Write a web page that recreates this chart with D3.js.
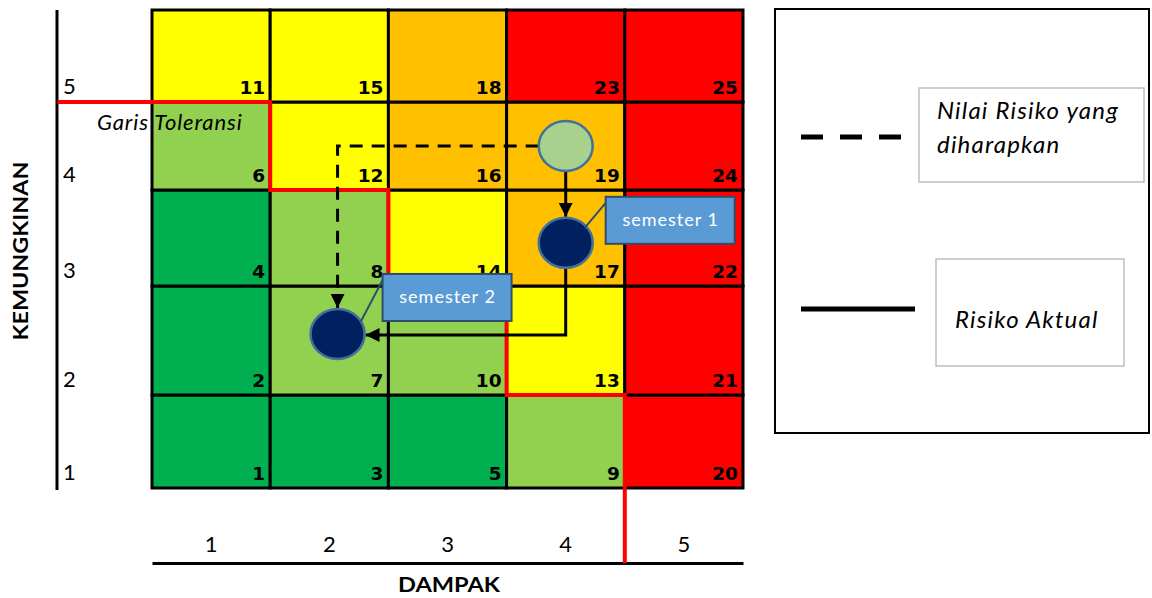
<!DOCTYPE html>
<html>
<head>
<meta charset="utf-8">
<script src="https://cdn.jsdelivr.net/npm/d3@7"></script>
<style>
  html, body { margin: 0; padding: 0; background: #fff; }
  svg { display: block; }
</style>
</head>
<body>
<svg id="chart" width="1152" height="598"></svg>
<script>
// ---------- data ----------
const impactLevels = [1, 2, 3, 4, 5];          // DAMPAK (x)
const likelihoodLevels = [1, 2, 3, 4, 5];      // KEMUNGKINAN (y)
// risk score per cell, row index = likelihood-1, column index = impact-1
const scoreRows = [
  [1, 3, 5, 9, 20],
  [2, 7, 10, 13, 21],
  [4, 8, 14, 17, 22],
  [6, 12, 16, 19, 24],
  [11, 15, 18, 23, 25]
];
// risk level per cell: G = low, LG = low-moderate, Y = moderate, O = moderate-high, R = high
const levelRows = [
  ["G", "G", "G", "LG", "R"],
  ["G", "LG", "LG", "Y", "R"],
  ["G", "LG", "Y", "O", "R"],
  ["LG", "Y", "O", "O", "R"],
  ["Y", "Y", "O", "R", "R"]
];
const levelNames = ["G", "LG", "Y", "O", "R"];
const levelColors = ["#00B050", "#92D050", "#FFFF00", "#FFC000", "#FF0000"];
// tolerance line ("Garis Toleransi") vertices in impact / likelihood units
const toleranceX = [-0.3, 1.5, 1.5, 2.5, 2.5, 3.5, 3.5, 4.5, 4.5];
const toleranceY = [4.5, 4.5, 3.5, 3.5, 2.5, 2.5, 1.5, 1.5, -0.31];
// risk points
const pointNames = ["expected", "semester 1", "semester 2"];
const pointImpact = [4.0, 4.0, 2.07];
const pointLikelihood = [4.0, 2.95, 2.06];
const calloutLabels = ["semester 1", "semester 2"];
const legendLabels = [["Nilai Risiko yang", "diharapkan"], ["Risiko Aktual"]];
const xTitle = "DAMPAK";
const yTitle = "KEMUNGKINAN";
const toleranceLabel = "Garis Toleransi";

// ---------- scales ----------
const svg = d3.select("#chart");
const x = d3.scaleLinear().domain([0.5, 5.5]).range([152, 743]);
const y = d3.scaleLinear()
  .domain([0.5, 1.5, 2.5, 3.5, 4.5, 5.5])
  .range([488, 395, 286, 190, 102, 10]);
const color = d3.scaleOrdinal().domain(levelNames).range(levelColors);
const band = d3.scaleBand().domain(impactLevels).range([152, 743]);

const sansFont = "Lato, 'Open Sans', sans-serif";

// ---------- cells ----------
const cells = [];
likelihoodLevels.forEach((l, ri) => impactLevels.forEach((im, ci) => {
  cells.push({ impact: im, likelihood: l, score: scoreRows[ri][ci], level: levelRows[ri][ci] });
}));

const gCells = svg.append("g");
gCells.selectAll("rect").data(cells).join("rect")
  .attr("x", d => x(d.impact - 0.5))
  .attr("y", d => y(d.likelihood + 0.5))
  .attr("width", d => x(d.impact + 0.5) - x(d.impact - 0.5))
  .attr("height", d => y(d.likelihood - 0.5) - y(d.likelihood + 0.5))
  .attr("fill", d => color(d.level))
  .attr("stroke", "#000")
  .attr("stroke-width", 3);

gCells.selectAll("text").data(cells).join("text")
  .attr("x", d => x(d.impact + 0.5) - 5)
  .attr("y", d => y(d.likelihood - 0.5) - 8)
  .attr("text-anchor", "end")
  .attr("font-family", "'DejaVu Sans', Verdana, sans-serif")
  .attr("font-weight", "bold")
  .attr("font-size", 18.5)
  .attr("fill", "#000")
  .text(d => d.score);

// ---------- axes ----------
svg.append("line")
  .attr("x1", 57).attr("x2", 57)
  .attr("y1", y(5.5)).attr("y2", y(0.5) + 2)
  .attr("stroke", "#000").attr("stroke-width", 3);
svg.append("g").selectAll("text").data(likelihoodLevels).join("text")
  .attr("x", 63)
  .attr("y", d => y(d - 0.5) - 8)
  .attr("font-family", sansFont)
  .attr("font-size", 22)
  .attr("fill", "#000")
  .text(d => d);
svg.append("text")
  .attr("transform", `translate(28, ${(y(5.5) + y(0.5)) / 2 + 2}) rotate(-90)`)
  .attr("text-anchor", "middle")
  .attr("font-family", sansFont)
  .attr("font-weight", "bold")
  .attr("font-size", 20)
  .attr("textLength", 179)
  .attr("lengthAdjust", "spacingAndGlyphs")
  .text(yTitle);

const xAxis = d3.axisTop(band).tickSize(0).tickSizeOuter(0).tickPadding(11);
const gx = svg.append("g").attr("transform", "translate(0,563)").call(xAxis);
gx.select(".domain").attr("stroke", "#000").attr("stroke-width", 3);
gx.selectAll("text")
  .attr("font-family", sansFont)
  .attr("font-size", 22)
  .attr("fill", "#000");
svg.append("text")
  .attr("x", 449)
  .attr("y", 592)
  .attr("text-anchor", "middle")
  .attr("font-family", sansFont)
  .attr("font-weight", "bold")
  .attr("font-size", 21)
  .attr("textLength", 102)
  .attr("lengthAdjust", "spacingAndGlyphs")
  .text(xTitle);

// ---------- tolerance line ----------
const tolPts = toleranceX.map((v, i) => [x(v), y(toleranceY[i])]);
svg.append("path")
  .attr("d", d3.line()(tolPts))
  .attr("fill", "none")
  .attr("stroke", "#FF0000")
  .attr("stroke-width", 4);
svg.append("text")
  .attr("x", 97).attr("y", 130)
  .attr("font-family", sansFont)
  .attr("font-style", "italic")
  .attr("font-size", 22)
  .attr("letter-spacing", 0.9)
  .text(toleranceLabel);

// ---------- arrows ----------
const defs = svg.append("defs");
defs.append("marker")
  .attr("id", "arrow")
  .attr("markerUnits", "userSpaceOnUse")
  .attr("viewBox", "0 0 14 14")
  .attr("refX", 14).attr("refY", 7)
  .attr("markerWidth", 14).attr("markerHeight", 14)
  .attr("orient", "auto")
  .append("path").attr("d", "M0,0 L14,7 L0,14 Z").attr("fill", "#000");

const pts = pointNames.map((n, i) => ({ name: n, cx: x(pointImpact[i]), cy: y(pointLikelihood[i]) }));
const rx = 27, ry = 25;
const [pE, p1, p2] = pts;

svg.append("path")
  .attr("d", d3.line()([[pE.cx - rx, pE.cy], [p2.cx, pE.cy], [p2.cx, p2.cy - ry - 1]]))
  .attr("fill", "none").attr("stroke", "#000").attr("stroke-width", 3)
  .attr("stroke-dasharray", "13,9")
  .attr("marker-end", "url(#arrow)");
svg.append("path")
  .attr("d", d3.line()([[pE.cx, pE.cy + ry], [p1.cx, p1.cy - ry - 1]]))
  .attr("fill", "none").attr("stroke", "#000").attr("stroke-width", 3)
  .attr("marker-end", "url(#arrow)");
svg.append("path")
  .attr("d", d3.line()([[p1.cx, p1.cy + ry], [p1.cx, p2.cy + 1], [p2.cx + rx + 1, p2.cy + 1]]))
  .attr("fill", "none").attr("stroke", "#000").attr("stroke-width", 3)
  .attr("marker-end", "url(#arrow)");

svg.append("g").selectAll("ellipse").data(pts).join("ellipse")
  .attr("cx", d => d.cx).attr("cy", d => d.cy)
  .attr("rx", rx).attr("ry", ry)
  .attr("fill", d => d.name === "expected" ? "#A9D18E" : "#002060")
  .attr("stroke", "#41719C")
  .attr("stroke-width", 2.5);

// ---------- callouts ----------
const callouts = [
  { label: calloutLabels[0], p: p1, bx: p1.cx + 40, by: p1.cy - 46, lx: p1.cx + 19, ly: p1.cy - 15 },
  { label: calloutLabels[1], p: p2, bx: p2.cx + 45, by: p2.cy - 60, lx: p2.cx + 23, ly: p2.cy - 12 }
];
const gCall = svg.append("g");
callouts.forEach(c => {
  gCall.append("line")
    .attr("x1", c.bx).attr("y1", c.by + 6)
    .attr("x2", c.lx).attr("y2", c.ly)
    .attr("stroke", "#2F4F6F").attr("stroke-width", 2);
  gCall.append("rect")
    .attr("x", c.bx).attr("y", c.by)
    .attr("width", 129).attr("height", 47)
    .attr("fill", "#5B9BD5")
    .attr("stroke", "#2E4D6B").attr("stroke-width", 2);
  gCall.append("text")
    .attr("x", c.bx + 65).attr("y", c.by + 29)
    .attr("text-anchor", "middle")
    .attr("font-family", sansFont)
    .attr("font-size", 18)
    .attr("letter-spacing", 1)
    .attr("fill", "#fff")
    .text(c.label);
});

// ---------- legend ----------
const gLeg = svg.append("g");
gLeg.append("rect")
  .attr("x", 775).attr("y", 9).attr("width", 374).attr("height", 424)
  .attr("fill", "#fff").attr("stroke", "#000").attr("stroke-width", 2);
gLeg.append("line")
  .attr("x1", 801).attr("x2", 901).attr("y1", 137).attr("y2", 137)
  .attr("stroke", "#000").attr("stroke-width", 5).attr("stroke-dasharray", "22,17");
gLeg.append("line")
  .attr("x1", 801).attr("x2", 915).attr("y1", 309).attr("y2", 309)
  .attr("stroke", "#000").attr("stroke-width", 5);
gLeg.append("rect")
  .attr("x", 919).attr("y", 88).attr("width", 225).attr("height", 94)
  .attr("fill", "#fff").attr("stroke", "#BFBFBF").attr("stroke-width", 1.5);
gLeg.append("rect")
  .attr("x", 936).attr("y", 259).attr("width", 188).attr("height", 107)
  .attr("fill", "#fff").attr("stroke", "#BFBFBF").attr("stroke-width", 1.5);
gLeg.append("text")
  .attr("font-family", sansFont).attr("font-style", "italic").attr("font-size", 24)
  .attr("letter-spacing", 1.2)
  .selectAll("tspan").data(legendLabels[0]).join("tspan")
  .attr("x", 937).attr("y", (d, i) => 119 + i * 34)
  .text(d => d);
gLeg.append("text")
  .attr("x", 955).attr("y", 328)
  .attr("font-family", sansFont).attr("font-style", "italic").attr("font-size", 24)
  .attr("letter-spacing", 1.2)
  .text(legendLabels[1][0]);
</script>
</body>
</html>
